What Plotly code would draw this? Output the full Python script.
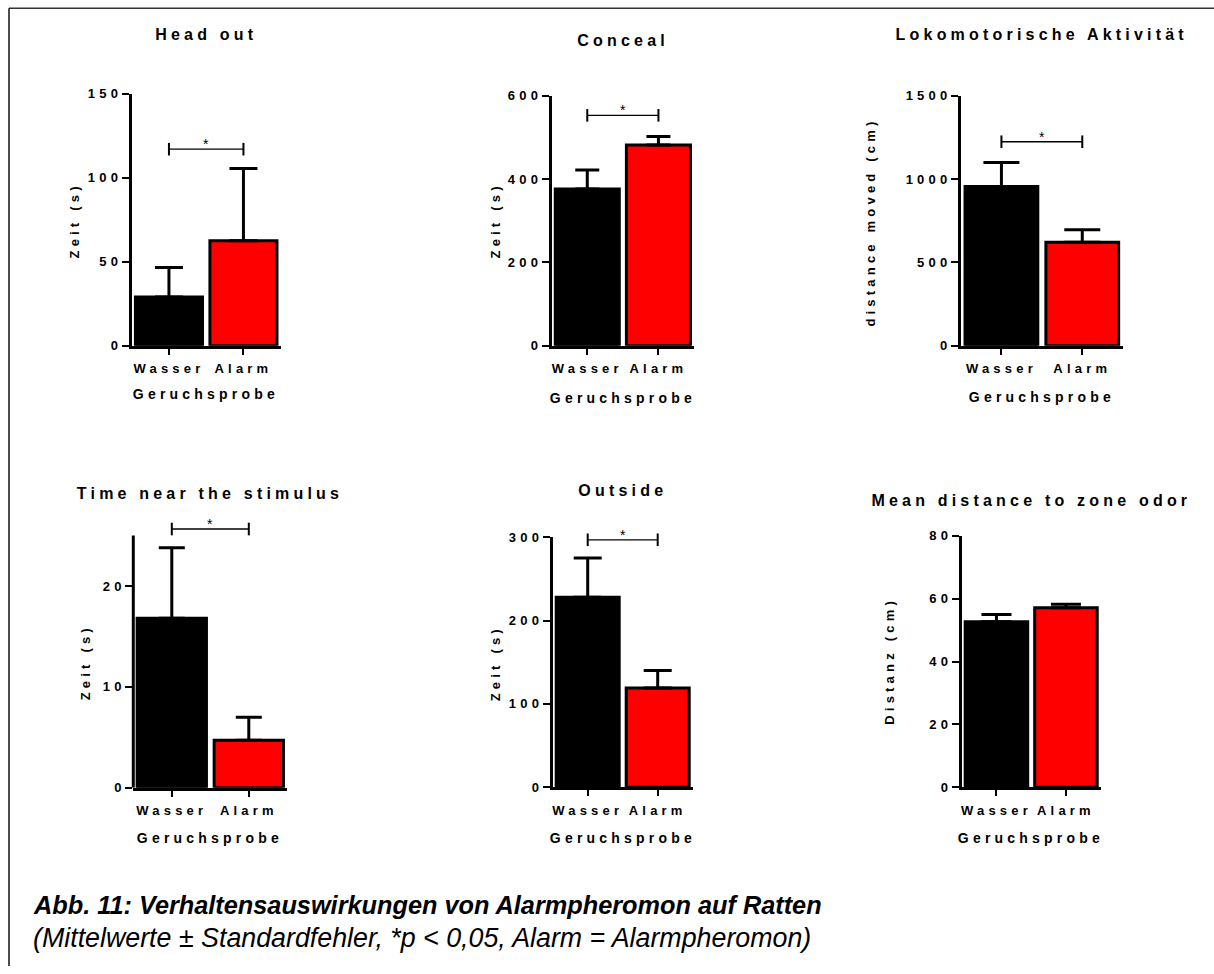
import plotly.graph_objects as go

# ---------------- DATA ----------------
categories = ["Wasser", "Alarm"]
panel_titles = ["Head out", "Conceal", "Lokomotorische Aktivität",
                "Time near the stimulus", "Outside", "Mean distance to zone odor"]
y_titles = ["Zeit (s)", "Zeit (s)", "distance moved (cm)",
            "Zeit (s)", "Zeit (s)", "Distanz (cm)"]
x_title = "Geruchsprobe"

head_out_mean = [29.0, 62.5]
head_out_sem = [17.5, 43.0]
conceal_mean = [376.0, 482.0]
conceal_sem = [46.0, 20.0]
loko_mean = [955.0, 620.0]
loko_sem = [145.0, 76.0]
near_mean = [16.8, 4.7]
near_sem = [7.0, 2.3]
outside_mean = [228.0, 119.0]
outside_sem = [47.0, 21.0]
odor_mean = [52.7, 57.1]
odor_sem = [2.3, 1.1]

sig_levels = [117, 553, 1224, 25.65, 297, None]   # significance bracket heights
y_max = [150, 600, 1500, 25, 300, 80]
y_dtick = [50, 200, 500, 10, 100, 20]

caption_1 = "Abb. 11: Verhaltensauswirkungen von Alarmpheromon auf Ratten"
caption_2 = "(Mittelwerte ± Standardfehler, *p < 0,05, Alarm = Alarmpheromon)"

means = [head_out_mean, conceal_mean, loko_mean, near_mean, outside_mean, odor_mean]
sems = [head_out_sem, conceal_sem, loko_sem, near_sem, outside_sem, odor_sem]

# ---------------- LAYOUT (pixel geometry) ----------------
W, H = 1214, 974


def ry(y):
    # vertical calibration of the photographed page
    return (y - 6.2) / 0.985


def px(x):
    return x / W


def py(y):
    return 1 - ry(y) / H


# axis boxes in target pixels: x_left, x_right, y_bottom(0), y_top(max)
boxes = [
    (131.7, 280.7, 345.0, 93.0),
    (551.7, 694.0, 345.0, 95.0),
    (961.0, 1122.7, 345.0, 95.0),
    (133.3, 287.3, 787.3, 535.0),
    (552.7, 692.7, 786.7, 536.7),
    (961.7, 1100.7, 786.7, 535.3),
]
title_pos = [(206, 34), (623, 40), (1042, 34), (210, 493), (623, 490), (1031, 500)]
ytitle_pos = [(75, 220), (496, 220), (871, 221), (86, 662), (496, 663), (890, 661)]
xtitle_pos = [(206, 393), (623, 397), (1042, 396), (210, 838), (623, 838), (1031, 838)]
cap_half = [14, 12, 18, 13, 14, 15]

FONT = "Liberation Sans, Arial, sans-serif"
colors = ["#000000", "#FF0000"]

fig = go.Figure()
annotations = []
shapes = []
layout_axes = {}

for i in range(6):
    n = i + 1
    xa = "x" if n == 1 else f"x{n}"
    ya = "y" if n == 1 else f"y{n}"
    xl, xr, yb, yt = boxes[i]
    top_val = y_max[i]
    rng_top = top_val
    # panel 4: bracket sits above the axis top, so extend range and draw axis line as shape
    extend = sig_levels[i] is not None and sig_levels[i] > top_val
    if extend:
        rng_top = top_val * 1.06
    pxu = (yb - yt) / top_val
    ytop_px = yb - rng_top * pxu

    fig.add_trace(go.Bar(
        x=categories, y=means[i],
        marker=dict(color=colors, line=dict(color="black", width=3)),
        error_y=dict(type="data", array=sems[i], arrayminus=[0, 0], symmetric=False,
                     color="black", thickness=3, width=cap_half[i]),
        xaxis=xa, yaxis=ya, showlegend=False, hoverinfo="x+y",
    ))

    if sig_levels[i] is not None:
        fig.add_trace(go.Scatter(
            x=categories, y=[sig_levels[i]] * 2, mode="lines+markers",
            line=dict(color="black", width=1.3),
            marker=dict(symbol="line-ns", size=9, line=dict(color="black", width=2)),
            cliponaxis=False, xaxis=xa, yaxis=ya, showlegend=False, hoverinfo="skip",
        ))
        annotations.append(dict(
            xref=xa, yref=ya, x=0.5, y=sig_levels[i], text="*", showarrow=False,
            yanchor="bottom", yshift=-5, font=dict(family=FONT, size=14, color="black"),
        ))

    layout_axes["xaxis" + ("" if n == 1 else str(n))] = dict(
        domain=[px(xl), px(xr)], anchor=ya, range=[-0.5, 1.5],
        showline=True, linecolor="black", linewidth=3,
        ticks="outside", ticklen=6, tickwidth=2, tickcolor="black",
        tickfont=dict(family=FONT, size=13, color="black", weight="bold"),
        showgrid=False, zeroline=False, fixedrange=True, ticklabelstandoff=3,
    )
    layout_axes["yaxis" + ("" if n == 1 else str(n))] = dict(
        domain=[py(yb), py(ytop_px)], anchor=xa, range=[0, rng_top],
        tick0=0, dtick=y_dtick[i],
        showline=not extend, linecolor="black", linewidth=3,
        ticks="outside", ticklen=7, tickwidth=2, tickcolor="black",
        tickfont=dict(family=FONT, size=13, color="black", weight="bold"),
        showgrid=False, zeroline=False, fixedrange=True, ticklabelstandoff=-3,
    )
    if extend:
        shapes.append(dict(type="line", xref=xa + " domain", yref=ya,
                           x0=0, x1=0, y0=0, y1=top_val,
                           line=dict(color="black", width=3)))

    tx, ty = title_pos[i]
    annotations.append(dict(xref="paper", yref="paper", x=px(tx), y=py(ty),
                            text=panel_titles[i], showarrow=False,
                            xanchor="center", yanchor="middle",
                            font=dict(family=FONT, size=16, color="black", weight="bold")))
    yx, yy = ytitle_pos[i]
    annotations.append(dict(xref="paper", yref="paper", x=px(yx), y=py(yy),
                            text=y_titles[i], showarrow=False, textangle=-90,
                            xanchor="center", yanchor="middle",
                            font=dict(family=FONT, size=13, color="black", weight="bold")))
    xx, xy = xtitle_pos[i]
    annotations.append(dict(xref="paper", yref="paper", x=px(xx), y=py(xy),
                            text=x_title, showarrow=False,
                            xanchor="center", yanchor="middle",
                            font=dict(family=FONT, size=14, color="black", weight="bold")))

# caption
annotations.append(dict(xref="paper", yref="paper", x=px(31), y=py(905), text=caption_1,
                        showarrow=False, xanchor="left", yanchor="middle",
                        font=dict(family=FONT, size=25.3, color="black", weight="bold",
                                  style="italic")))
annotations.append(dict(xref="paper", yref="paper", x=px(31), y=py(938), text=caption_2,
                        showarrow=False, xanchor="left", yanchor="middle",
                        font=dict(family=FONT, size=26.8, color="black", style="italic")))

# frame (top and left border lines)
shapes.append(dict(type="line", xref="paper", yref="paper", x0=px(9), x1=1, y0=py(7.5), y1=py(7.5),
                   line=dict(color="#333333", width=1.5)))
shapes.append(dict(type="line", xref="paper", yref="paper", x0=px(9), x1=px(9), y0=0, y1=py(7.5),
                   line=dict(color="#111111", width=1.5)))

fig.update_layout(
    width=W, height=H, autosize=False,
    margin=dict(l=0, r=0, t=0, b=0),
    paper_bgcolor="white", plot_bgcolor="white",
    bargap=0.1, showlegend=False,
    annotations=annotations, shapes=shapes,
    font=dict(family=FONT, color="black"),
    **layout_axes,
)

post = """
document.documentElement.style.margin = '0';
document.documentElement.style.overflow = 'hidden';
document.body.style.margin = '0';
document.body.style.overflow = 'hidden';
var s = document.createElement('style');
s.textContent = '.main-svg text{letter-spacing:4.2px;}' +
  '.main-svg text[data-unformatted^="Abb"], .main-svg text[data-unformatted^="(Mittel"],' +
  '.main-svg text[data-unformatted="*"]{letter-spacing:0px;}';
document.head.appendChild(s);
"""

fig.write_html("out.html", post_script=post, config={"displayModeBar": False})
